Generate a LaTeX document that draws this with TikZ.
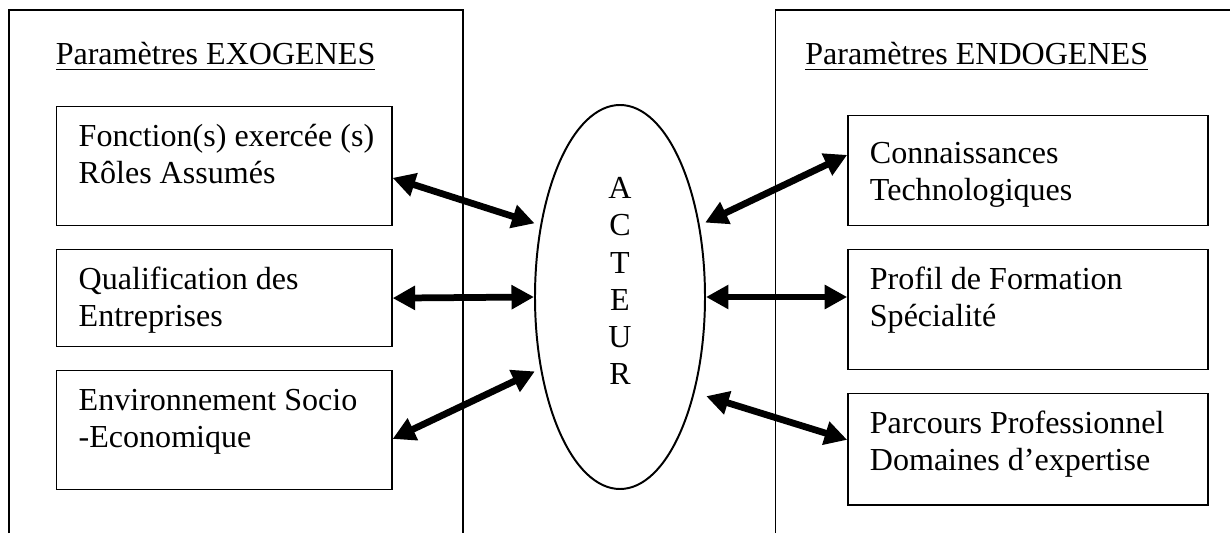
\documentclass[tikz,border=0pt]{standalone}
\usepackage{fontspec}
\setmainfont{Liberation Serif}
\usetikzlibrary{arrows.meta, shapes.geometric}

% text of a frame: [first baseline]{width}{height}{lines}
\newcommand{\boxlines}[4][0.5cm]{\parbox[t][#3][t]{#2}{\raggedright\leftskip=0.275cm\rule{0pt}{#1}#4}}

\begin{document}
\begin{tikzpicture}[>={Triangle[length=8pt, width=8.2pt]},
    font=\fontsize{11.4}{13.2}\selectfont,
    casebox/.style={draw, line width=0.5pt, anchor=north west, inner sep=0pt},
    title/.style={anchor=base west, inner sep=0pt},
    letters/.style={align=center, yshift=0.2cm},
    dblarrow/.style={<->, line width=2.4pt}]
        \useasboundingbox (0, 0) rectangle (15.375, 6.6625);

        % open panels (cut at the bottom)
        \draw[line width=0.5pt] (0.11, 0) -- (0.11, 6.54) -- (5.79, 6.54) -- (5.79, 0);
        \draw[line width=0.5pt] (9.69, 0) -- (9.69, 6.54) -- (15.375, 6.54);

        % titles
        \node[title] (exotitle) at (0.69, 5.85) {\underline{Paramètres EXOGENES}};
        \node[title] (endotitle) at (10.06, 5.85) {\underline{Paramètres ENDOGENES}};

        % exogenous parameters
        \node[casebox] (exo1) at (0.70, 5.34) {\boxlines{4.19cm}{1.49cm}{Fonction(s) exercée (s)\\Rôles Assumés}};
        \node[casebox] (exo2) at (0.70, 3.55) {\boxlines{4.19cm}{1.21cm}{Qualification des\\Entreprises}};
        \node[casebox] (exo3) at (0.70, 2.04) {\boxlines{4.19cm}{1.49cm}{Environnement Socio\\-Economique}};

        % endogenous parameters
        \node[casebox] (endo1) at (10.59, 5.225) {\boxlines[0.6cm]{4.5cm}{1.375cm}{Connaissances\\Technologiques}};
        \node[casebox] (endo2) at (10.59, 3.55) {\boxlines{4.5cm}{1.5cm}{Profil de Formation\\Spécialité}};
        \node[casebox] (endo3) at (10.59, 1.75) {\boxlines{4.5cm}{1.39cm}{Parcours Professionnel\\Domaines d’expertise}};

        % the actor
        \node[ellipse, draw, line width=0.7pt, inner sep=0pt, minimum width=2.125cm, minimum height=4.8cm,
              label={[letters]center:A\\C\\T\\E\\U\\R}] (acteur) at (7.75, 2.95) {};

        % links
        \draw[dblarrow, shorten >=2.1pt] (exo1.-4) -- (acteur.138);
        \draw[dblarrow] (exo2.east) -- (acteur.west);
        \draw[dblarrow, shorten >=2.1pt] (exo3.-3) -- (acteur.222);
        \draw[dblarrow, shorten >=2.1pt] (endo1.175) -- (acteur.42);
        \draw[dblarrow] (endo2.west |- acteur.east) -- (acteur.east);
        \draw[dblarrow, shorten >=4.3pt] (endo3.177) -- (acteur.-52);
    \end{tikzpicture}
\end{document}
